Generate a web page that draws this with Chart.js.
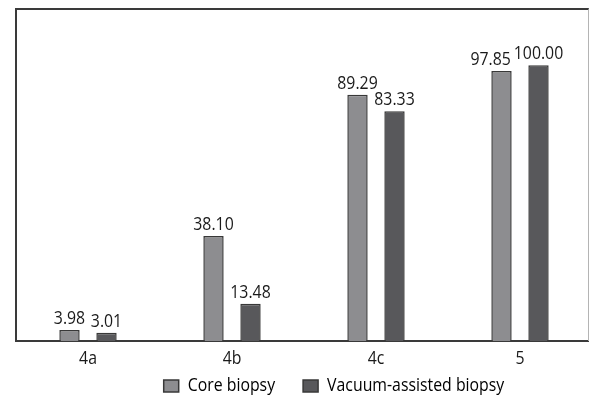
<!DOCTYPE html>
<html>
<head>
<meta charset="utf-8">
<script src="https://cdn.jsdelivr.net/npm/chart.js@4/dist/chart.umd.min.js"></script>
<style>
  html, body { margin: 0; padding: 0; background: #fff; overflow: hidden; }
  #wrap { width: 589px; height: 401px; overflow: hidden; position: relative; }
  #box { width: 600px; height: 401px; position: absolute; left: 0; top: 0; }
  #frame { position: absolute; left: 15px; top: 8px; width: 574px; height: 333px; box-sizing: border-box;
           border-left: 2px solid #3a3a3a; border-top: 2px solid #3a3a3a; border-right: 1px solid #b4b4b4;
           pointer-events: none; }
</style>
</head>
<body>
<div id="wrap"><div id="box"><canvas id="c"></canvas></div><div id="frame"></div></div>
<script>
const categories = ["4a", "4b", "4c", "5"];
const coreBiopsy = [3.98, 38.10, 89.29, 97.85];
const vacuumBiopsy = [3.01, 13.48, 83.33, 100.00];
const seriesNames = ["Core biopsy", "Vacuum-assisted biopsy"];

const FONT = "'Open Sans', 'Noto Sans', sans-serif";
const SX = 0.88; // horizontal condensing of all text
const LEGEND_PAD = 28;

const canvas = document.getElementById('c');
const ctx0 = canvas.getContext('2d');
const origFill = ctx0.fillText.bind(ctx0);
const origMeasure = ctx0.measureText.bind(ctx0);
ctx0.fillText = function (t, x, y) {
  this.save();
  this.translate(x, y);
  this.scale(SX, 1);
  origFill(t, 0, 0);
  this.restore();
};
ctx0.measureText = function (t) {
  const m = origMeasure(t);
  return {
    width: m.width * SX,
    actualBoundingBoxAscent: m.actualBoundingBoxAscent,
    actualBoundingBoxDescent: m.actualBoundingBoxDescent,
    actualBoundingBoxLeft: m.actualBoundingBoxLeft * SX,
    actualBoundingBoxRight: m.actualBoundingBoxRight * SX,
    fontBoundingBoxAscent: m.fontBoundingBoxAscent,
    fontBoundingBoxDescent: m.fontBoundingBoxDescent
  };
};

const layoutTweaks = {
  id: 'layoutTweaks',
  beforeLayout(chart) {
    const lg = chart.legend;
    if (lg && !lg.__patched) {
      const f = lg.fit;
      lg.fit = function () { f.call(this); this.height = 24.4; };
      lg.__patched = true;
    }
  },
  afterLayout(chart) {
    const lg = chart.legend;
    if (lg) {
      lg.left += 30; lg.right += 30;
      const dy = 386 - (lg.top + LEGEND_PAD + 9);
      lg.top += dy;
      lg.bottom = chart.height + 4;
    }
  },
  afterDatasetsDraw(chart) {
    const { ctx } = chart;
    ctx.save();
    ctx.font = "18px " + FONT;
    ctx.fillStyle = '#1a1a1a';
    ctx.textAlign = 'center';
    ctx.textBaseline = 'alphabetic';
    const m0 = chart.getDatasetMeta(0), m1 = chart.getDatasetMeta(1);
    const d0 = chart.data.datasets[0].data, d1 = chart.data.datasets[1].data;
    categories.forEach((_, j) => {
      const b0 = m0.data[j], b1 = m1.data[j];
      const t0 = d0[j].toFixed(2), t1 = d1[j].toFixed(2);
      const w0 = ctx.measureText(t0).width, w1 = ctx.measureText(t1).width;
      const y0 = b0.y - 6, y1 = b1.y - 6;
      let x0 = b0.x;
      const x1 = b1.x;
      if (Math.abs(y0 - y1) < 16) {
        const overlap = (x0 + w0 / 2 + 3) - (x1 - w1 / 2);
        if (overlap > 0) x0 -= overlap;
      }
      ctx.fillText(t0, x0, y0);
      ctx.fillText(t1, x1, y1);
    });
    ctx.restore();
  }
};

new Chart(canvas, {
  type: 'bar',
  data: {
    labels: categories,
    datasets: [
      { label: seriesNames[0], data: coreBiopsy, backgroundColor: '#8d8d90', borderColor: '#383838', borderWidth: 1.5 },
      { label: seriesNames[1], data: vacuumBiopsy, backgroundColor: '#58585b', borderColor: '#383838', borderWidth: 1.5 }
    ]
  },
  options: {
    responsive: true,
    maintainAspectRatio: false,
    animation: false,
    devicePixelRatio: 1,
    categoryPercentage: 0.514,
    barPercentage: 0.55,
    layout: { padding: { left: 16, top: 10, right: 8, bottom: 0 } },
    plugins: {
      legend: {
        position: 'bottom',
        labels: {
          font: { family: FONT, size: 18 },
          color: '#1a1a1a',
          boxWidth: 15,
          boxHeight: 12,
          padding: LEGEND_PAD,
          generateLabels(chart) {
            return chart.data.datasets.map((ds, i) => ({
              text: ds.label,
              fillStyle: ds.backgroundColor,
              strokeStyle: '#383838',
              lineWidth: 1.5,
              datasetIndex: i,
              hidden: false
            }));
          }
        }
      },
      tooltip: { enabled: false }
    },
    scales: {
      x: {
        grid: { display: false, drawTicks: false },
        border: { display: true, color: '#3a3a3a', width: 2 },
        ticks: { font: { family: FONT, size: 18 }, color: '#1a1a1a', padding: 7 }
      },
      y: {
        display: false,
        min: 0,
        max: 120
      }
    }
  },
  plugins: [layoutTweaks]
});
</script>
</body>
</html>
